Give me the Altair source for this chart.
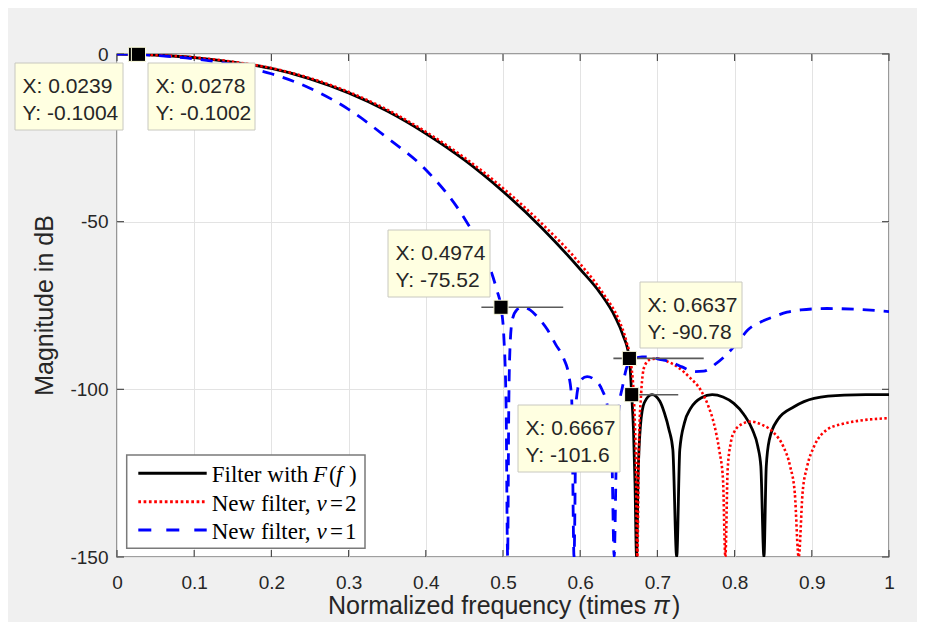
import altair as alt
import pandas as pd

# ------------------------------------------------------------------ data
black_x = [0, 0.0278, 0.05, 0.1, 0.15, 0.2, 0.25, 0.3, 0.35, 0.4,
           0.45, 0.5, 0.55, 0.6, 0.626, 0.645, 0.655, 0.6637, 0.6667, 0.669,
           0.671, 0.673, 0.675, 0.678, 0.683, 0.693, 0.703, 0.709, 0.715, 0.72,
           0.725, 0.729, 0.735, 0.743, 0.757, 0.771, 0.785, 0.799, 0.812, 0.823,
           0.83, 0.834, 0.838, 0.841, 0.845, 0.856, 0.877, 0.903, 0.942, 0.97, 1.0]
black_y = [0, -0.1002, -0.33, -1.05, -2.4, -4.3, -7.4, -11.6, -17.0, -23.7,
           -31.6, -41.0, -51.8, -64.2, -71.3, -78.3, -83.6, -90.78, -101.6, -112,
           -128, -150, -126, -111, -104, -101.6, -103.5, -107, -112, -118,
           -150, -118, -110, -105.7, -102.5, -101.6, -102.3, -104.2, -107.5, -112,
           -117, -123, -150, -123, -115, -109, -105.2, -102.7, -101.7, -101.6, -101.6]

red_x = [0, 0.0278, 0.05, 0.1, 0.15, 0.2, 0.25, 0.3, 0.35, 0.4,
         0.45, 0.5, 0.55, 0.6, 0.63, 0.65, 0.66, 0.666, 0.67, 0.672,
         0.674, 0.676, 0.679, 0.683, 0.69, 0.70, 0.712, 0.726, 0.742, 0.756,
         0.766, 0.773, 0.78, 0.785, 0.788, 0.791, 0.795, 0.80, 0.81, 0.821,
         0.835, 0.851, 0.863, 0.872, 0.878, 0.883, 0.888, 0.894, 0.903, 0.92,
         0.94, 0.96, 1.0]
red_y = [0, -0.1002, -0.32, -1.0, -2.3, -4.2, -7.2, -11.3, -16.6, -23.2,
         -30.9, -40.0, -50.5, -62.6, -71.5, -79.3, -85.8, -92.5, -105, -120,
         -150, -118, -101, -93.3, -91.2, -90.8, -91.6, -93.3, -96.5, -100.2,
         -105, -110, -118, -127, -150, -124, -116, -112.5, -110.3, -109.6,
         -110.5, -113, -117, -123, -131, -150, -131, -123, -117, -112,
         -110.3, -109.4, -108.6]

blue_x = [0, 0.0239, 0.05, 0.1, 0.15, 0.2, 0.25, 0.3, 0.35, 0.4,
          0.45, 0.47, 0.48, 0.492, 0.4974, 0.501, 0.504, 0.506, 0.5075, 0.509,
          0.512, 0.518, 0.525, 0.535, 0.545, 0.557, 0.568, 0.579, 0.585, 0.589,
          0.592, 0.595, 0.6, 0.609, 0.618, 0.628, 0.636, 0.641, 0.644, 0.647,
          0.65, 0.655, 0.661, 0.67, 0.68, 0.69, 0.70, 0.717, 0.732, 0.747,
          0.76, 0.775, 0.791, 0.805, 0.817, 0.835, 0.851, 0.868, 0.886, 0.92,
          0.955, 1.0]
blue_y = [0, -0.1004, -0.42, -1.45, -3.2, -5.9, -10.2, -16.5, -25, -34.5,
          -49, -57, -62, -70.4, -75.52, -84, -105, -150, -105, -88,
          -79.3, -76.3, -75.5, -76.3, -78.5, -82, -86.5, -91, -95.5, -103,
          -150, -103, -97.5, -96.2, -97, -100, -106, -120, -150, -118,
          -106, -99, -93, -90.8, -90.3, -90.3, -90.9, -91.8, -93.3, -94.7,
          -94.6, -92.5, -89.3, -85.7, -82.3, -79.8, -78.3, -77, -76.3, -75.9,
          -76.1, -76.8]

tip_x = [0.0239, 0.0278, 0.4974, 0.6637, 0.6667]
tip_y = [-0.1004, -0.1002, -75.52, -90.78, -101.6]
tip_xlabel = ["X: 0.0239", "X: 0.0278", "X: 0.4974", "X: 0.6637", "X: 0.6667"]
tip_ylabel = ["Y: -0.1004", "Y: -0.1002", "Y: -75.52", "Y: -90.78", "Y: -101.6"]

level_y = [-75.52, -90.78, -101.6]
level_x1 = [0.472, 0.643, 0.660]
level_x2 = [0.578, 0.760, 0.727]

x_ticks = [0, 0.1, 0.2, 0.3, 0.4, 0.5, 0.6, 0.7, 0.8, 0.9, 1]
y_ticks = [-150, -100, -50, 0]

x_title = "Normalized frequency (times"
y_title = "Magnitude in dB"

# ------------------------------------------------------------------ layout
W, H = 772, 503          # plot area
OX, OY = 117, 54         # plot origin on the page
YMIN, YMAX = -150, 0

# data-tip boxes (page px): left, top, right, bottom
tip_boxes = [(15, 63, 123, 130), (148, 63, 255, 130), (388, 230, 490, 297),
             (640, 282, 742, 348), (518, 405, 620, 472)]


def dx(px):
    return (px - OX) / W


def dy(py):
    return YMAX - (py - OY) / H * (YMAX - YMIN)


AX_COL = "#262626"
FONT = "Liberation Sans"
SERIF = "Liberation Serif"

xs = alt.Scale(domain=[0, 1], nice=False, zero=False)
ys = alt.Scale(domain=[YMIN, YMAX], nice=False, zero=False)

xaxis = alt.Axis(values=x_ticks, title=None, grid=True, gridColor="#e3e3e3",
                 gridWidth=1, domain=False, ticks=False, tickSize=0,
                 labelPadding=16.5, labelFont=FONT, labelFontSize=19,
                 labelColor=AX_COL, labelFlush=False,
                 labelExpr="format(datum.value, '~g')")
yaxis = alt.Axis(values=y_ticks, title=None, grid=True, gridColor="#e3e3e3",
                 gridWidth=1, domain=False, ticks=False, tickSize=0,
                 labelPadding=9, labelFont=FONT, labelFontSize=19,
                 labelColor=AX_COL, labelFlush=False,
                 labelExpr="datum.value < 0 ? '-' + format(-datum.value, '~g') : format(datum.value, '~g')")


def X(f):
    return alt.X(f, scale=xs, axis=xaxis)


def Y(f):
    return alt.Y(f, scale=ys, axis=yaxis)


dummy = pd.DataFrame({"a": [0]})
layers = []

# inward ticks on all four sides
TICK = "#4d4d4d"
xt = pd.DataFrame({"x": x_ticks})
yt = pd.DataFrame({"y": y_ticks})
layers.append(alt.Chart(xt).mark_rule(color=TICK, strokeWidth=1.2).encode(
    x=X("x:Q"), y=alt.value(H), y2=alt.value(H - 7)))
layers.append(alt.Chart(xt).mark_rule(color=TICK, strokeWidth=1.2).encode(
    x=X("x:Q"), y=alt.value(0), y2=alt.value(7)))
layers.append(alt.Chart(yt).mark_rule(color=TICK, strokeWidth=1.2).encode(
    y=Y("y:Q"), x=alt.value(0), x2=alt.value(7)))
layers.append(alt.Chart(yt).mark_rule(color=TICK, strokeWidth=1.2).encode(
    y=Y("y:Q"), x=alt.value(W), x2=alt.value(W - 7)))


def curve(xv, yv, **mk):
    df = pd.DataFrame({"x": xv, "y": yv})
    return alt.Chart(df).mark_line(clip=True, interpolate="monotone", **mk).encode(
        x=X("x:Q"), y=Y("y:Q"))


layers.append(curve(black_x, black_y, color="#000000", strokeWidth=2.8))
layers.append(curve(red_x, red_y, color="#ff0000", strokeWidth=2.6,
                    strokeDash=[2.4, 2.4]))
layers.append(curve(blue_x, blue_y, color="#0000ff", strokeWidth=2.8,
                    strokeDash=[12, 9]))

# level lines next to the data tips
lv = pd.DataFrame({"x1": level_x1, "x2": level_x2, "y": level_y})
layers.append(alt.Chart(lv).mark_rule(color="#5a5a5a", strokeWidth=1.6).encode(
    x=X("x1:Q"), x2="x2:Q", y=Y("y:Q")))

# data tips
tips = pd.DataFrame({
    "x": tip_x, "y": tip_y, "lx": tip_xlabel, "ly": tip_ylabel,
    "bx1": [dx(b[0]) for b in tip_boxes], "bx2": [dx(b[2]) for b in tip_boxes],
    "by1": [dy(b[1]) for b in tip_boxes], "by2": [dy(b[3]) for b in tip_boxes],
    "tx": [dx(b[0] + 7.5) for b in tip_boxes],
    "ty1": [dy(b[1] + 30) for b in tip_boxes],
    "ty2": [dy(b[1] + 57) for b in tip_boxes],
})
layers.append(alt.Chart(tips).mark_square(size=200, fill="#000000", opacity=1,
                                          stroke="#ffffe1", strokeWidth=1).encode(
    x=X("x:Q"), y=Y("y:Q")))
layers.append(alt.Chart(tips).mark_rect(fill="#ffffe1", stroke="#c8c8c0",
                                        strokeWidth=1).encode(
    x=X("bx1:Q"), x2="bx2:Q", y=Y("by1:Q"), y2="by2:Q"))
for col, ycol in (("lx", "ty1"), ("ly", "ty2")):
    layers.append(alt.Chart(tips).mark_text(align="left", baseline="alphabetic",
                                            font=FONT, fontSize=21,
                                            color=AX_COL).encode(
        x=X("tx:Q"), y=Y(ycol + ":Q"), text=col + ":N"))

# legend
layers.append(alt.Chart(dummy).mark_rect(fill="white", stroke="#7a7a7a",
                                         strokeWidth=1.5).encode(
    x=alt.value(126.7 - OX), x2=alt.value(365 - OX),
    y=alt.value(455 - OY), y2=alt.value(548.3 - OY)))
leg_styles = [dict(color="#000000", strokeWidth=3),
              dict(color="#ff0000", strokeWidth=3, strokeDash=[2.7, 2.6]),
              dict(color="#0000ff", strokeWidth=3, strokeDash=[13, 15])]
leg_rows = [473.3, 501.7, 530.0]
for sty, ry in zip(leg_styles, leg_rows):
    layers.append(alt.Chart(dummy).mark_rule(**sty).encode(
        x=alt.value(138.3 - OX), x2=alt.value(206.7 - OX), y=alt.value(ry - OY)))

leg_segments = [
    [("Filter with", 211.7, "normal"), ("F", 313, "italic"), ("(", 329, "normal"),
     ("f", 336, "italic"), (")", 349, "normal")],
    [("New filter,", 211.7, "normal"), ("ν", 316.5, "italic"), ("=", 330, "normal"),
     ("2", 345, "normal")],
    [("New filter,", 211.7, "normal"), ("ν", 316.5, "italic"), ("=", 330, "normal"),
     ("1", 345, "normal")],
]
for segs, ry in zip(leg_segments, leg_rows):
    for txt, sx, st in segs:
        layers.append(alt.Chart(dummy).mark_text(
            align="left", baseline="alphabetic", font=SERIF, fontSize=23,
            fontStyle=st, color="#000000").encode(
            x=alt.value(sx - OX), y=alt.value(ry + 9 - OY), text=alt.value(txt)))

# axis titles
for txt, sx, st in ((x_title, 328, "normal"), ("π", 653, "italic"), (")", 672, "normal")):
    layers.append(alt.Chart(dummy).mark_text(
        align="left", baseline="alphabetic", font=FONT, fontSize=25,
        fontStyle=st, color=AX_COL).encode(
        x=alt.value(sx - OX), y=alt.value(614 - OY), text=alt.value(txt)))
layers.append(alt.Chart(dummy).mark_text(
    align="center", baseline="alphabetic", font=FONT, fontSize=25, angle=270,
    color=AX_COL).encode(
    x=alt.value(53 - OX), y=alt.value(H / 2), text=alt.value(y_title)))

chart = alt.layer(*layers).properties(
    width=W, height=H,
    autosize=alt.AutoSizeParams(type="none"),
    padding={"left": OX - 8, "top": OY - 8, "right": 917 - OX - W, "bottom": 622 - OY - H},
    background="#f0f0f0",
).configure_view(stroke="#808080", strokeWidth=1.6, fill="white")

chart.save("out.html", embed_options={"renderer": "svg", "actions": False})
